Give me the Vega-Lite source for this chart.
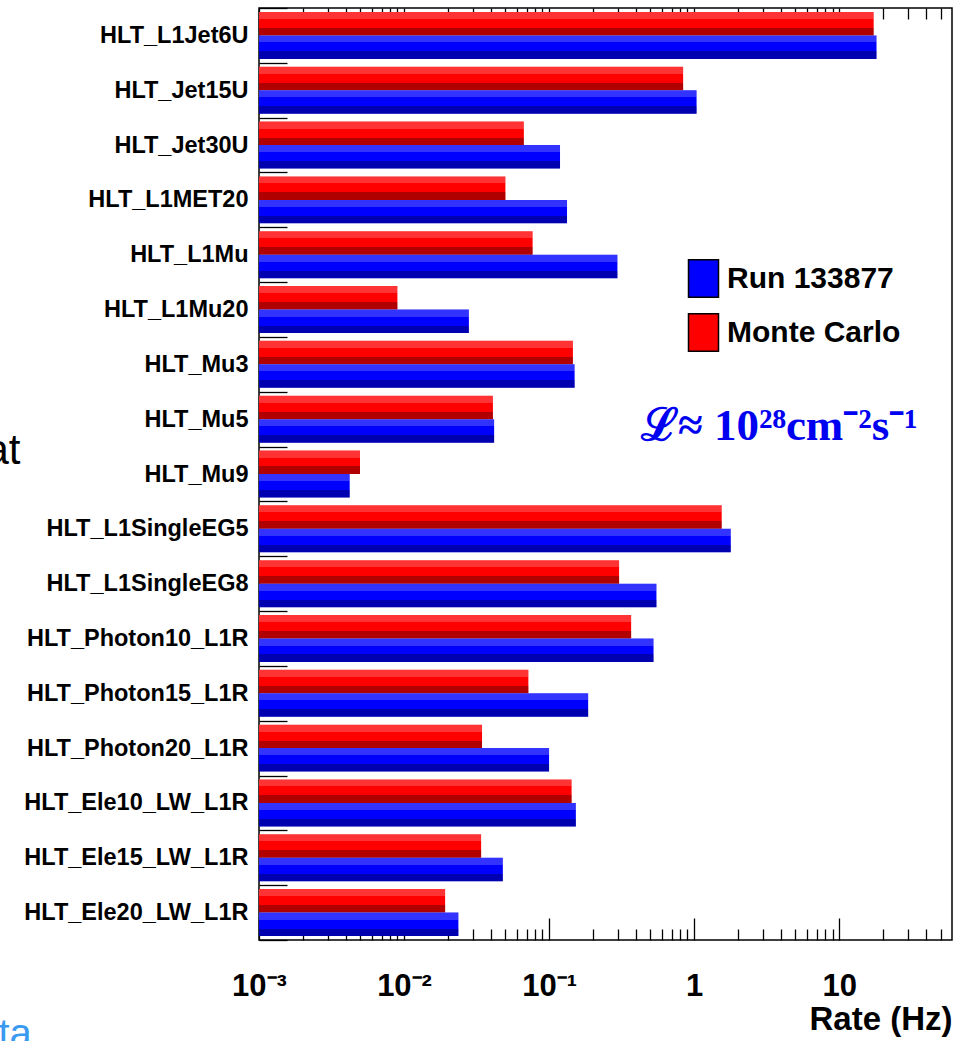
{
  "$schema": "https://vega.github.io/schema/vega-lite/v6.json",
  "width": 693,
  "height": 932,
  "autosize": {"type": "none"},
  "padding": {"left": 259, "top": 8, "right": 3, "bottom": 101},
  "background": "white",
  "config": {
    "view": {"stroke": "black", "strokeWidth": 1.5},
    "font": "Liberation Sans"
  },
  "data": {
    "values": [
      {"trigger": "HLT_L1Jet6U", "series": "Monte Carlo", "rate": 17.3},
      {"trigger": "HLT_L1Jet6U", "series": "Run 133877", "rate": 18.1},
      {"trigger": "HLT_Jet15U", "series": "Monte Carlo", "rate": 0.84},
      {"trigger": "HLT_Jet15U", "series": "Run 133877", "rate": 1.04},
      {"trigger": "HLT_Jet30U", "series": "Monte Carlo", "rate": 0.067},
      {"trigger": "HLT_Jet30U", "series": "Run 133877", "rate": 0.119},
      {"trigger": "HLT_L1MET20", "series": "Monte Carlo", "rate": 0.050},
      {"trigger": "HLT_L1MET20", "series": "Run 133877", "rate": 0.133},
      {"trigger": "HLT_L1Mu", "series": "Monte Carlo", "rate": 0.077},
      {"trigger": "HLT_L1Mu", "series": "Run 133877", "rate": 0.296},
      {"trigger": "HLT_L1Mu20", "series": "Monte Carlo", "rate": 0.0090},
      {"trigger": "HLT_L1Mu20", "series": "Run 133877", "rate": 0.028},
      {"trigger": "HLT_Mu3", "series": "Monte Carlo", "rate": 0.146},
      {"trigger": "HLT_Mu3", "series": "Run 133877", "rate": 0.150},
      {"trigger": "HLT_Mu5", "series": "Monte Carlo", "rate": 0.041},
      {"trigger": "HLT_Mu5", "series": "Run 133877", "rate": 0.0418},
      {"trigger": "HLT_Mu9", "series": "Monte Carlo", "rate": 0.00497},
      {"trigger": "HLT_Mu9", "series": "Run 133877", "rate": 0.00422},
      {"trigger": "HLT_L1SingleEG5", "series": "Monte Carlo", "rate": 1.55},
      {"trigger": "HLT_L1SingleEG5", "series": "Run 133877", "rate": 1.79},
      {"trigger": "HLT_L1SingleEG8", "series": "Monte Carlo", "rate": 0.304},
      {"trigger": "HLT_L1SingleEG8", "series": "Run 133877", "rate": 0.55},
      {"trigger": "HLT_Photon10_L1R", "series": "Monte Carlo", "rate": 0.368},
      {"trigger": "HLT_Photon10_L1R", "series": "Run 133877", "rate": 0.525},
      {"trigger": "HLT_Photon15_L1R", "series": "Monte Carlo", "rate": 0.072},
      {"trigger": "HLT_Photon15_L1R", "series": "Run 133877", "rate": 0.186},
      {"trigger": "HLT_Photon20_L1R", "series": "Monte Carlo", "rate": 0.0345},
      {"trigger": "HLT_Photon20_L1R", "series": "Run 133877", "rate": 0.100},
      {"trigger": "HLT_Ele10_LW_L1R", "series": "Monte Carlo", "rate": 0.143},
      {"trigger": "HLT_Ele10_LW_L1R", "series": "Run 133877", "rate": 0.153},
      {"trigger": "HLT_Ele15_LW_L1R", "series": "Monte Carlo", "rate": 0.034},
      {"trigger": "HLT_Ele15_LW_L1R", "series": "Run 133877", "rate": 0.048},
      {"trigger": "HLT_Ele20_LW_L1R", "series": "Monte Carlo", "rate": 0.0192},
      {"trigger": "HLT_Ele20_LW_L1R", "series": "Run 133877", "rate": 0.0237}
    ]
  },
  "resolve": {"axis": {"x": "independent"}},
  "layer": [
    {
      "mark": {"type": "bar"},
      "encoding": {
        "x": {
          "field": "rate", "type": "quantitative", "title": "Rate (Hz)",
          "scale": {"type": "log", "domain": [0.001, 60], "nice": false},
          "axis": {
            "orient": "bottom",
            "values": [0.001,0.002,0.003,0.004,0.005,0.006,0.007,0.008,0.009,0.01,0.02,0.03,0.04,0.05,0.06,0.07,0.08,0.09,0.1,0.2,0.3,0.4,0.5,0.6,0.7,0.8,0.9,1,2,3,4,5,6,7,8,9,10,20,30,40,50],
            "labelExpr": "datum.value == 0.001 ? '10⁻³' : datum.value == 0.01 ? '10⁻²' : datum.value == 0.1 ? '10⁻¹' : datum.value == 1 ? '1' : datum.value == 10 ? '10' : ''",
            "labelFont": "Liberation Sans", "labelFontWeight": "bold", "labelFontSize": 31, "labelColor": "black",
            "labelFlush": false, "labelOverlap": false, "labelBound": false,
            "labelBaseline": "alphabetic", "labelPadding": 77,
            "tickSize": {"condition": {"test": "indexof([0.001,0.01,0.1,1,10], datum.value) >= 0", "value": -22}, "value": -11},
            "tickColor": "black", "tickWidth": 1.3,
            "domain": false, "grid": false,
            "titleFont": "Liberation Sans", "titleFontSize": 33, "titleFontWeight": "bold", "titleColor": "black",
            "titleAlign": "right", "titleAnchor": "end", "titleBaseline": "alphabetic",
            "titleX": 693, "titleY": 89, "titleAngle": 0
          }
        },
        "x2": {"datum": 0.001},
        "y": {
          "field": "trigger", "type": "nominal", "title": "at",
          "sort": ["HLT_L1Jet6U","HLT_Jet15U","HLT_Jet30U","HLT_L1MET20","HLT_L1Mu","HLT_L1Mu20","HLT_Mu3","HLT_Mu5","HLT_Mu9","HLT_L1SingleEG5","HLT_L1SingleEG8","HLT_Photon10_L1R","HLT_Photon15_L1R","HLT_Photon20_L1R","HLT_Ele10_LW_L1R","HLT_Ele15_LW_L1R","HLT_Ele20_LW_L1R"],
          "scale": {"paddingInner": 0, "paddingOuter": 0},
          "axis": {
            "tickBand": "extent", "tickSize": -28, "tickColor": "black", "tickWidth": 1.3,
            "domain": false, "grid": false,
            "labelFont": "Liberation Sans", "labelFontWeight": "bold", "labelFontSize": 23.5, "labelColor": "black",
            "labelPadding": 39, "labelLimit": 400,
            "titleFont": "Liberation Sans", "titleFontWeight": "normal", "titleFontSize": 42, "titleColor": "black",
            "titleAngle": 0, "titleAlign": "right", "titleBaseline": "alphabetic", "titleX": -239, "titleY": 455
          }
        },
        "yOffset": {
          "field": "series", "type": "nominal", "sort": ["Monte Carlo", "Run 133877"],
          "scale": {"paddingInner": 0, "paddingOuter": 0.167}
        },
        "color": {
          "field": "series", "type": "nominal",
          "scale": {"domain": ["Run 133877", "Monte Carlo"], "range": ["#0000ff", "#ff0000"]},
          "legend": {
            "title": null, "orient": "none", "legendX": 425, "legendY": 251, "padding": 0,
            "symbolType": "M-0.8,-1H0.8V1H-0.8Z", "symbolSize": 1406,
            "symbolStrokeColor": "black", "symbolStrokeWidth": 1.5, "symbolOpacity": 1,
            "labelFont": "Liberation Sans", "labelFontWeight": "bold", "labelFontSize": 30, "labelColor": "black",
            "labelOffset": 4, "rowPadding": 9, "labelLimit": 400
          }
        }
      }
    },
    {
      "mark": {
        "type": "bar",
        "fill": {
          "gradient": "linear", "x1": 0, "y1": 0, "x2": 0, "y2": 1,
          "stops": [
            {"offset": 0, "color": "rgba(255,255,255,0.2)"},
            {"offset": 0.3, "color": "rgba(255,255,255,0.2)"},
            {"offset": 0.3, "color": "rgba(0,0,0,0)"},
            {"offset": 0.68, "color": "rgba(0,0,0,0)"},
            {"offset": 0.68, "color": "rgba(0,0,0,0.31)"},
            {"offset": 1, "color": "rgba(0,0,0,0.31)"}
          ]
        }
      },
      "encoding": {
        "x": {
          "field": "rate", "type": "quantitative", "title": "ta",
          "scale": {"type": "log", "domain": [0.001, 60], "nice": false},
          "axis": {
            "orient": "top",
            "values": [0.001,0.002,0.003,0.004,0.005,0.006,0.007,0.008,0.009,0.01,0.02,0.03,0.04,0.05,0.06,0.07,0.08,0.09,0.1,0.2,0.3,0.4,0.5,0.6,0.7,0.8,0.9,1,2,3,4,5,6,7,8,9,10,20,30,40,50],
            "labels": false,
            "tickSize": {"condition": {"test": "indexof([0.001,0.01,0.1,1,10], datum.value) >= 0", "value": -22}, "value": -11},
            "tickColor": "black", "tickWidth": 1.3,
            "domain": false, "grid": false,
            "titleFont": "Liberation Sans", "titleFontSize": 40, "titleFontWeight": "normal", "titleColor": "#3a9af0",
            "titleAlign": "left", "titleAnchor": "start", "titleBaseline": "alphabetic",
            "titleX": -261, "titleY": 1038, "titleAngle": 0
          }
        },
        "x2": {"datum": 0.001},
        "y": {
          "field": "trigger", "type": "nominal", "title": "at",
          "sort": ["HLT_L1Jet6U","HLT_Jet15U","HLT_Jet30U","HLT_L1MET20","HLT_L1Mu","HLT_L1Mu20","HLT_Mu3","HLT_Mu5","HLT_Mu9","HLT_L1SingleEG5","HLT_L1SingleEG8","HLT_Photon10_L1R","HLT_Photon15_L1R","HLT_Photon20_L1R","HLT_Ele10_LW_L1R","HLT_Ele15_LW_L1R","HLT_Ele20_LW_L1R"]
        },
        "yOffset": {
          "field": "series", "type": "nominal", "sort": ["Monte Carlo", "Run 133877"]
        }
      }
    },
    {
      "data": {"values": [{"note": "ℒ≈ 10²⁸cm⁻²s⁻¹", "rate": 0.43, "trigger": "HLT_Mu5"}]},
      "mark": {"type": "text", "align": "left", "baseline": "alphabetic", "dy": 21, "font": "Liberation Serif", "fontWeight": "bold", "fontSize": 45, "color": "#0000f0"},
      "encoding": {
        "x": {"field": "rate", "type": "quantitative", "axis": null, "scale": {"type": "log", "domain": [0.001, 60], "nice": false}},
        "y": {
          "field": "trigger", "type": "nominal", "title": "at",
          "sort": ["HLT_L1Jet6U","HLT_Jet15U","HLT_Jet30U","HLT_L1MET20","HLT_L1Mu","HLT_L1Mu20","HLT_Mu3","HLT_Mu5","HLT_Mu9","HLT_L1SingleEG5","HLT_L1SingleEG8","HLT_Photon10_L1R","HLT_Photon15_L1R","HLT_Photon20_L1R","HLT_Ele10_LW_L1R","HLT_Ele15_LW_L1R","HLT_Ele20_LW_L1R"]
        },
        "text": {"field": "note"}
      }
    }
  ]
}
